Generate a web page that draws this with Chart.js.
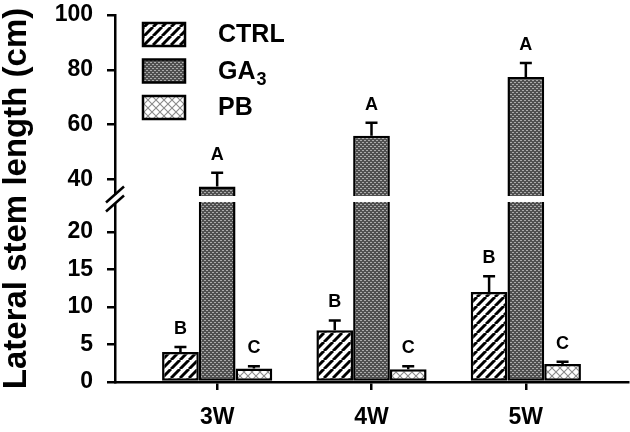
<!DOCTYPE html>
<html>
<head>
<meta charset="utf-8">
<script src="https://cdn.jsdelivr.net/npm/chart.js@4.4.1/dist/chart.umd.min.js"></script>
<style>
  html, body { margin: 0; padding: 0; background: #fff; }
  #wrap { width: 630px; height: 432px; }
</style>
</head>
<body>
<div id="wrap"><canvas id="chart"></canvas></div>
<script>
// ===== DATA =====
const weeks = ["3W", "4W", "5W"];
const seriesNames = ["CTRL", "GA3", "PB"];
const ctrlValues = [4.0, 6.9, 12.0];
const ctrlErrors = [0.65, 1.3, 2.1];
const ga3Values = [37.5, 56.0, 77.4];
const ga3Errors = [5.0, 4.7, 5.1];
const pbValues = [1.8, 1.7, 2.4];
const pbErrors = [0.3, 0.4, 0.3];
const ctrlLetters = ["B", "B", "B"];
const ga3Letters = ["A", "A", "A"];
const pbLetters = ["C", "C", "C"];
const yTicksLow = [0, 5, 10, 15, 20];
const yTicksHigh = [40, 60, 80, 100];

// ===== SUMBU PATAH (broken axis) =====
const breakLow = 24, breakHigh = 34;
const lowShare = 0.4905, highStart = 0.5068;

function toDecimal(v, max) {
  if (v <= breakLow) return (v / breakLow) * lowShare;
  if (v >= breakHigh) return highStart + ((v - breakHigh) / (max - breakHigh)) * (1 - highStart);
  return lowShare + ((v - breakLow) / (breakHigh - breakLow)) * (highStart - lowShare);
}
function fromDecimal(d, max) {
  if (d <= lowShare) return (d / lowShare) * breakLow;
  if (d >= highStart) return breakHigh + ((d - highStart) / (1 - highStart)) * (max - breakHigh);
  return breakLow + ((d - lowShare) / (highStart - lowShare)) * (breakHigh - breakLow);
}

class BrokenScale extends Chart.LinearScale {
  static id = "broken";
  static defaults = {};
  getPixelForValue(value) {
    if (value === null || value === undefined || isNaN(value)) return NaN;
    return this.getPixelForDecimal(toDecimal(value, this.max));
  }
  getValueForPixel(pixel) {
    return fromDecimal(this.getDecimalForPixel(pixel), this.max);
  }
}
Chart.register(BrokenScale);

// ===== POLA ARSIRAN =====
function makePattern(w, h, draw) {
  const c = document.createElement("canvas");
  c.width = w;
  c.height = h;
  const g = c.getContext("2d");
  draw(g, w, h);
  return g.createPattern(c, "repeat");
}

const ctrlFill = makePattern(9, 9, (g, w, h) => {
  g.fillStyle = "#fff";
  g.fillRect(0, 0, w, h);
  g.strokeStyle = "#000";
  g.lineWidth = 3;
  [-9, 0, 9].forEach((o) => {
    g.beginPath();
    g.moveTo(o, h);
    g.lineTo(o + w, 0);
    g.stroke();
  });
});

const ga3Fill = makePattern(4, 4, (g, w, h) => {
  g.fillStyle = "#505050";
  g.fillRect(0, 0, w, h);
  g.fillStyle = "#aaaaaa";
  g.fillRect(0, 0, 2, 1);
  g.fillRect(2, 2, 2, 1);
});

const pbFill = makePattern(8, 8, (g, w, h) => {
  g.fillStyle = "#fff";
  g.fillRect(0, 0, w, h);
  g.strokeStyle = "#8a8a8a";
  g.lineWidth = 1.1;
  g.beginPath();
  g.moveTo(0, 0); g.lineTo(8, 8);
  g.moveTo(8, 0); g.lineTo(0, 8);
  g.stroke();
});

const fills = [ctrlFill, ga3Fill, pbFill];

function toPoints(values) {
  return values.map((v, i) => ({ x: i, y: v }));
}

// ===== PLUGIN: error bar + huruf =====
const errorBarPlugin = {
  id: "errorBars",
  afterDatasetsDraw(chart) {
    const ctx = chart.ctx;
    const y = chart.scales.y;
    chart.data.datasets.forEach((ds, i) => {
      const meta = chart.getDatasetMeta(i);
      meta.data.forEach((bar, j) => {
        const top = y.getPixelForValue(ds.data[j].y + ds.errors[j]);
        ctx.save();
        ctx.strokeStyle = "#000";
        ctx.lineWidth = 2.5;
        ctx.beginPath();
        ctx.moveTo(bar.x, bar.y);
        ctx.lineTo(bar.x, top);
        ctx.moveTo(bar.x - 6, top);
        ctx.lineTo(bar.x + 6, top);
        ctx.stroke();
        ctx.fillStyle = "#000";
        ctx.font = "bold 18px 'Liberation Sans', Arial, sans-serif";
        ctx.textAlign = "center";
        ctx.textBaseline = "middle";
        ctx.fillText(ds.letters[j], bar.x, top - 18);
        ctx.restore();
      });
    });
  }
};

// ===== PLUGIN: tanda patah sumbu =====
const breakPlugin = {
  id: "axisBreak",
  afterDraw(chart) {
    const ctx = chart.ctx;
    const y = chart.scales.y;
    const area = chart.chartArea;
    const yHi = y.getPixelForValue(breakHigh);
    const yLo = y.getPixelForValue(breakLow);
    const mid = (yHi + yLo) / 2;
    const ax = area.left;
    ctx.save();
    ctx.fillStyle = "#fff";
    ctx.fillRect(ax + 2, yHi, area.right - ax, yLo - yHi);
    ctx.fillRect(ax - 3, mid - 4.5, 6, 9);
    ctx.strokeStyle = "#000";
    ctx.lineWidth = 2.5;
    [-4.5, 4.5].forEach((d) => {
      ctx.beginPath();
      ctx.moveTo(ax - 9, mid + d + 8);
      ctx.lineTo(ax + 9, mid + d - 8);
      ctx.stroke();
    });
    ctx.restore();
  }
};

// ===== PLUGIN: legenda =====
const legendPlugin = {
  id: "boxLegend",
  afterDraw(chart) {
    const ctx = chart.ctx;
    ctx.save();
    chart.data.datasets.forEach((ds, i) => {
      const bx = 143, by = 23 + i * 36.5, bw = 42, bh = 23;
      ctx.fillStyle = ds.backgroundColor;
      ctx.fillRect(bx, by, bw, bh);
      ctx.strokeStyle = "#000";
      ctx.lineWidth = 2.5;
      ctx.strokeRect(bx, by, bw, bh);
      const m = ds.label.match(/^(.*?)(\d+)$/);
      const main = m ? m[1] : ds.label;
      ctx.fillStyle = "#000";
      ctx.textBaseline = "middle";
      ctx.textAlign = "left";
      ctx.font = "bold 25px 'Liberation Sans', Arial, sans-serif";
      const cy = by + bh / 2 + 1;
      ctx.fillText(main, 218, cy);
      if (m) {
        const w = ctx.measureText(main).width;
        ctx.font = "bold 18px 'Liberation Sans', Arial, sans-serif";
        ctx.fillText(m[2], 218 + w + 1, cy + 8);
      }
    });
    ctx.restore();
  }
};

Chart.defaults.font.family = "'Liberation Sans', Arial, sans-serif";
Chart.defaults.color = "#000";

new Chart(document.getElementById("chart"), {
  type: "bar",
  data: {
    datasets: [
      { label: seriesNames[0], data: toPoints(ctrlValues), errors: ctrlErrors, letters: ctrlLetters, backgroundColor: fills[0] },
      { label: seriesNames[1], data: toPoints(ga3Values), errors: ga3Errors, letters: ga3Letters, backgroundColor: fills[1] },
      { label: seriesNames[2], data: toPoints(pbValues), errors: pbErrors, letters: pbLetters, backgroundColor: fills[2] }
    ].map((d) => Object.assign(d, { borderColor: "#000", borderWidth: 2.5, borderSkipped: false }))
  },
  options: {
    responsive: true,
    maintainAspectRatio: false,
    animation: false,
    devicePixelRatio: 1,
    categoryPercentage: 0.714,
    barPercentage: 1.0,
    layout: { padding: { top: 15, right: 2, left: 0, bottom: 0 } },
    plugins: { legend: { display: false }, tooltip: { enabled: false } },
    scales: {
      x: {
        type: "linear",
        offset: false,
        min: -0.662,
        max: 2.662,
        afterBuildTicks: (s) => { s.ticks = weeks.map((w, i) => ({ value: i })); },
        afterFit: (s) => { s.height = 50; },
        ticks: {
          callback: (v) => weeks[v],
          font: { size: 23, weight: "bold" },
          padding: 14,
          maxRotation: 0
        },
        grid: { display: true, offset: false, drawOnChartArea: false, drawTicks: true, tickLength: 8, color: "#000", lineWidth: 2.5 },
        border: { display: true, color: "#000", width: 2.5 }
      },
      y: {
        type: "broken",
        min: 0,
        max: 100,
        afterBuildTicks: (s) => { s.ticks = yTicksLow.concat(yTicksHigh).map((v) => ({ value: v })); },
        afterFit: (s) => { s.width = 115; s.paddingTop = 0; s.paddingBottom = 0; },
        ticks: {
          font: { size: 23, weight: "bold" },
          padding: 14
        },
        grid: { display: true, drawOnChartArea: false, drawTicks: true, tickLength: 8, color: "#000", lineWidth: 2.5 },
        border: { display: true, color: "#000", width: 2.5 },
        title: {
          display: true,
          text: "Lateral stem length (cm)",
          font: { size: 33, weight: "bold", lineHeight: 1.0 },
          padding: 0
        }
      }
    }
  },
  plugins: [errorBarPlugin, breakPlugin, legendPlugin]
});
</script>
</body>
</html>
